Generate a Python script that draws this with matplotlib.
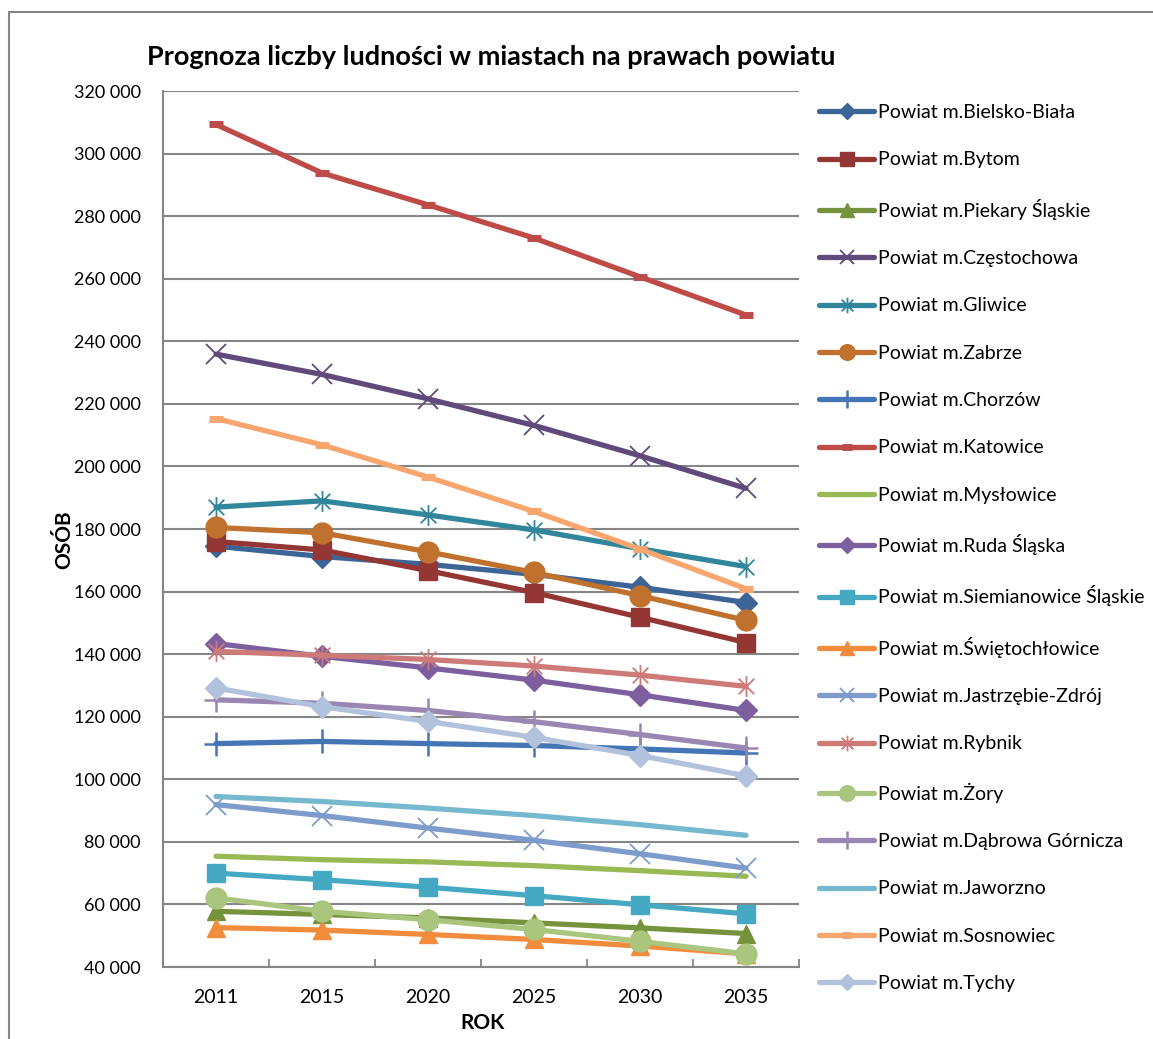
import matplotlib
matplotlib.use("Agg")
import matplotlib.pyplot as plt
from matplotlib.path import Path
from matplotlib.patches import Rectangle
from matplotlib.ticker import FuncFormatter, FixedLocator
import numpy as np

plt.rcParams['font.family'] = ['Lato', 'DejaVu Sans']

# ---- dane ----
lata = ['2011', '2015', '2020', '2025', '2030', '2035']

powiaty = ['Powiat m.Bielsko-Biała', 'Powiat m.Bytom', 'Powiat m.Piekary Śląskie',
           'Powiat m.Częstochowa', 'Powiat m.Gliwice', 'Powiat m.Zabrze',
           'Powiat m.Chorzów', 'Powiat m.Katowice', 'Powiat m.Mysłowice',
           'Powiat m.Ruda Śląska', 'Powiat m.Siemianowice Śląskie',
           'Powiat m.Świętochłowice', 'Powiat m.Jastrzębie-Zdrój', 'Powiat m.Rybnik',
           'Powiat m.Żory', 'Powiat m.Dąbrowa Górnicza', 'Powiat m.Jaworzno',
           'Powiat m.Sosnowiec', 'Powiat m.Tychy']

bielsko = [174500, 171200, 168700, 165500, 161400, 156500]
bytom = [176000, 173300, 166700, 159700, 151800, 143700]
piekary = [57800, 56800, 55700, 54100, 52500, 50700]
czestochowa = [235900, 229400, 221600, 213100, 203400, 193000]
gliwice = [187000, 189000, 184500, 179700, 173700, 168000]
zabrze = [180500, 178800, 172700, 166100, 158700, 150800]
chorzow = [111400, 112100, 111400, 110800, 109700, 108400]
katowice = [309300, 293800, 283600, 273000, 260600, 248400]
myslowice = [75400, 74300, 73600, 72400, 70800, 69000]
ruda = [143400, 139300, 135600, 131700, 127000, 122000]
siemianowice = [70000, 67900, 65500, 62800, 59900, 57000]
swietochlowice = [52600, 51800, 50400, 48800, 46700, 44200]
jastrzebie = [91900, 88400, 84400, 80500, 76200, 71600]
rybnik = [140900, 139600, 138300, 136200, 133300, 129700]
zory = [62100, 57800, 55100, 52000, 48200, 44200]
dabrowa = [125400, 124300, 122000, 118400, 114300, 110000]
jaworzno = [94500, 92900, 90800, 88400, 85500, 82100]
sosnowiec = [215300, 206900, 196600, 185600, 173600, 160900]
tychy = [129200, 123200, 118500, 113400, 107600, 101100]

wartosci = [bielsko, bytom, piekary, czestochowa, gliwice, zabrze, chorzow,
            katowice, myslowice, ruda, siemianowice, swietochlowice, jastrzebie,
            rybnik, zory, dabrowa, jaworzno, sosnowiec, tychy]

kolory = ['#3C6497', '#943634', '#76923C', '#5F4A7B', '#31869B', '#C1712E',
          '#4475B4', '#BE4B48', '#98B954', '#7D5FA0', '#46A9C4', '#F08C3C',
          '#7D9BCB', '#CD7A78', '#AAC57E', '#9A86B2', '#76B9CE', '#F9A56E',
          '#B2C2DC']

# gwiazdka jak w Excelu: pionowa kreska + x
gwiazdka = Path([(0, -1), (0, 1), (-0.75, -0.75), (0.75, 0.75), (-0.75, 0.75), (0.75, -0.75)],
                [Path.MOVETO, Path.LINETO, Path.MOVETO, Path.LINETO, Path.MOVETO, Path.LINETO])

znaczniki = ['D', 's', '^', 'x', gwiazdka, 'o', '+', '_', 'None']
rozmiary = [11, 13, 13, 14, 15, 15, 17, 10, 0]
grubosci = [1, 1, 1, 1.3, 1.3, 1, 1.8, 5, 1]

# ---- wykres ----
W, H = 1153, 1039
fig = plt.figure(figsize=(W / 100, H / 100), dpi=100)
ax = fig.add_axes([163 / W, 1 - 967 / H, (799 - 163) / W, (967 - 91) / H])

szary = '#868686'
fig.patches.append(Rectangle((9 / W, -0.05), 1.1, 1 - 12 / H + 0.05, transform=fig.transFigure,
                             fill=False, edgecolor=szary, linewidth=1.5))

x = np.arange(len(lata))
for i, (nazwa, dane) in enumerate(zip(powiaty, wartosci)):
    m = i % 9
    if nazwa == 'Powiat m.Sosnowiec':
        m = 7
    if nazwa == 'Powiat m.Jaworzno':
        m = 8
    ax.plot(x, dane, color=kolory[i], linewidth=3.8, marker=znaczniki[m],
            markersize=rozmiary[m], markeredgewidth=grubosci[m],
            markerfacecolor=kolory[i], markeredgecolor=kolory[i],
            label=nazwa, solid_capstyle='round', zorder=3)

ax.set_xlim(-0.5, 5.5)
ax.set_ylim(40000, 320000)
ax.set_yticks(np.arange(40000, 320001, 20000))
ax.yaxis.set_major_formatter(FuncFormatter(lambda v, p: f"{int(v):,}".replace(',', ' ')))
ax.set_xticks(x)
ax.set_xticklabels(lata)
ax.xaxis.set_minor_locator(FixedLocator([0, 0.5, 1.5, 2.5, 3.5, 4.5, 5.5]))
ax.tick_params(axis='x', which='major', length=0, pad=16, labelsize=14)
ax.tick_params(axis='x', which='minor', direction='in', length=6, width=1.3, color=szary)
ax.tick_params(axis='y', length=0, pad=16, labelsize=13)

ax.grid(axis='y', color=szary, linewidth=1.5, zorder=0)
ax.set_axisbelow(True)
for s in ['top', 'right']:
    ax.spines[s].set_visible(False)
for s in ['left', 'bottom']:
    ax.spines[s].set_color(szary)
    ax.spines[s].set_linewidth(1.5)

fig.text(491 / W, 1 - 57 / H, 'Prognoza liczby ludności w miastach na prawach powiatu',
         ha='center', va='center', fontsize=19.5, fontweight='bold')
fig.text(64 / W, 1 - 540 / H, 'OSÓB', rotation=90, ha='center', va='center',
         fontsize=15, fontweight='bold')
fig.text(483 / W, 1 - 1023 / H, 'ROK', ha='center', va='center',
         fontsize=15, fontweight='bold')

leg = fig.legend(loc='upper left', bbox_to_anchor=(819 / W, 1 - 104 / H), frameon=False,
                 fontsize=14, handlelength=2.85, handletextpad=0.2, labelspacing=1.56,
                 borderpad=0, borderaxespad=0, markerscale=0.75)

fig.savefig('out.png', dpi=100)
